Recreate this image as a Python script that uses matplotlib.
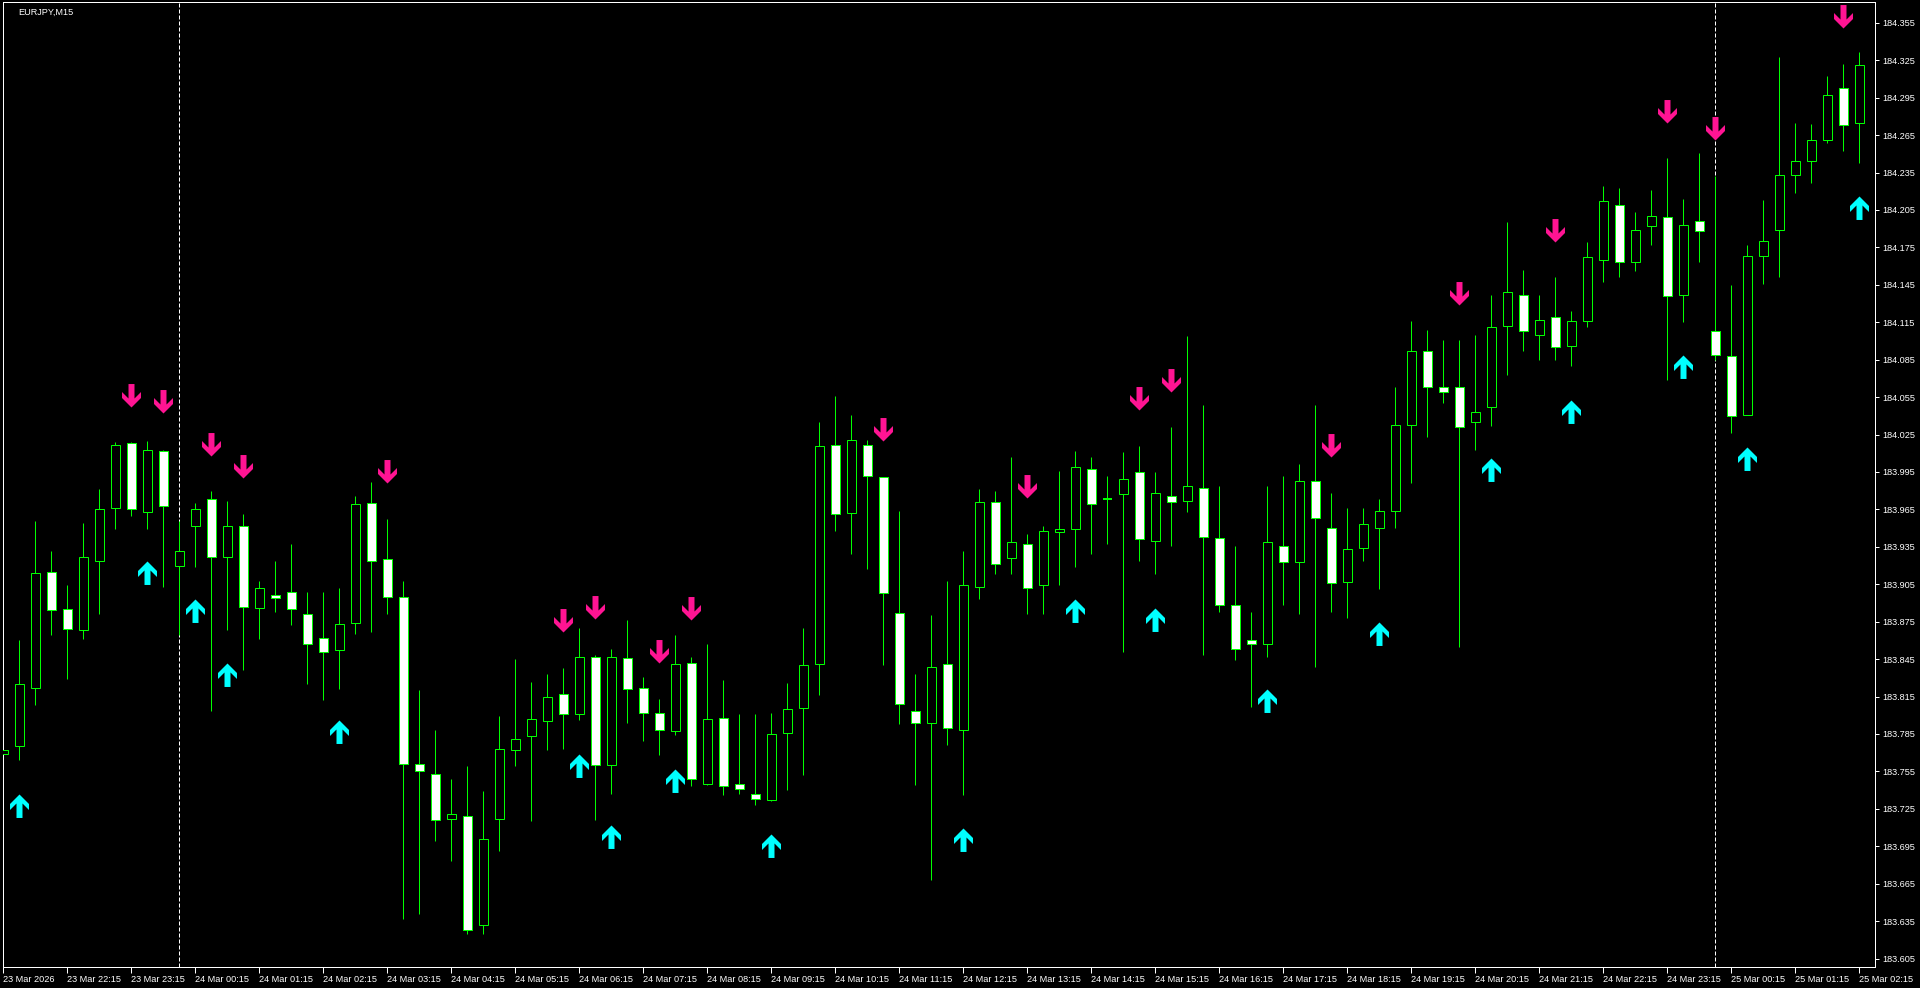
import numpy as np
import pandas as pd
import matplotlib
matplotlib.use("Agg")
import matplotlib.pyplot as plt
from matplotlib.path import Path

symbol = "EURJPY,M15"
start_time = "2026-03-23 21:15"

opens = [183.769, 183.775, 183.822, 183.915, 183.885, 183.868, 183.924, 183.966, 184.018, 183.963,
         184.012, 183.920, 183.952, 183.973, 183.927, 183.952, 183.886, 183.896, 183.899, 183.881,
         183.862, 183.852, 183.874, 183.970, 183.925, 183.895, 183.761, 183.753, 183.717, 183.719,
         183.632, 183.717, 183.772, 183.783, 183.795, 183.817, 183.801, 183.847, 183.760, 183.846,
         183.822, 183.802, 183.787, 183.842, 183.745, 183.798, 183.745, 183.737, 183.732, 183.786,
         183.806, 183.841, 184.017, 183.962, 184.017, 183.991, 183.882, 183.803, 183.794, 183.841,
         183.788, 183.903, 183.971, 183.926, 183.937, 183.904, 183.947, 183.949, 183.997, 183.973,
         183.977, 183.995, 183.940, 183.976, 183.972, 183.982, 183.942, 183.888, 183.860, 183.857,
         183.936, 183.923, 183.988, 183.950, 183.907, 183.934, 183.950, 183.964, 184.033, 184.092,
         184.063, 184.063, 184.035, 184.047, 184.112, 184.137, 184.105, 184.119, 184.096, 184.116,
         184.165, 184.209, 184.163, 184.192, 184.199, 184.137, 184.196, 184.108, 184.088, 184.041,
         184.168, 184.189, 184.233, 184.244, 184.261, 184.303, 184.275]
highs = [183.787, 183.860, 183.956, 183.932, 183.904, 183.954, 183.981, 184.019, 184.019, 184.020,
         184.013, 183.956, 183.970, 183.980, 183.972, 183.961, 183.908, 183.924, 183.937, 183.899,
         183.899, 183.902, 183.976, 183.987, 183.957, 183.908, 183.820, 183.788, 183.749, 183.759,
         183.739, 183.799, 183.845, 183.827, 183.833, 183.838, 183.870, 183.848, 183.853, 183.876,
         183.831, 183.813, 183.864, 183.847, 183.857, 183.828, 183.801, 183.801, 183.802, 183.826,
         183.870, 184.035, 184.056, 184.041, 184.021, 183.991, 183.964, 183.833, 183.880, 183.908,
         183.932, 183.981, 183.980, 184.007, 183.945, 183.952, 183.996, 184.012, 184.007, 183.992,
         184.011, 184.016, 183.995, 184.031, 184.104, 184.049, 183.984, 183.936, 183.883, 183.984,
         183.992, 184.001, 184.049, 183.978, 183.966, 183.966, 183.973, 184.063, 184.116, 184.109,
         184.101, 184.101, 184.105, 184.137, 184.195, 184.157, 184.137, 184.151, 184.124, 184.179,
         184.224, 184.223, 184.203, 184.221, 184.247, 184.214, 184.251, 184.232, 184.145, 184.177,
         184.213, 184.328, 184.275, 184.274, 184.312, 184.322, 184.332]
lows = [183.728, 183.764, 183.808, 183.864, 183.829, 183.861, 183.881, 183.949, 183.960, 183.949,
        183.903, 183.864, 183.919, 183.803, 183.868, 183.836, 183.861, 183.883, 183.872, 183.825,
        183.812, 183.821, 183.865, 183.867, 183.881, 183.637, 183.641, 183.699, 183.683, 183.625,
        183.625, 183.691, 183.759, 183.715, 183.772, 183.773, 183.796, 183.716, 183.737, 183.794,
        183.779, 183.768, 183.784, 183.743, 183.744, 183.736, 183.737, 183.728, 183.731, 183.740,
        183.752, 183.816, 183.948, 183.929, 183.917, 183.840, 183.793, 183.744, 183.668, 183.776,
        183.736, 183.893, 183.913, 183.913, 183.881, 183.881, 183.904, 183.919, 183.929, 183.937,
        183.851, 183.924, 183.913, 183.936, 183.963, 183.848, 183.883, 183.844, 183.807, 183.847,
        183.888, 183.881, 183.839, 183.883, 183.878, 183.924, 183.901, 183.950, 183.986, 184.023,
        184.050, 183.855, 184.013, 184.032, 184.073, 184.092, 184.085, 184.085, 184.080, 184.111,
        184.147, 184.151, 184.156, 184.177, 184.069, 184.115, 184.163, 184.085, 184.026, 184.041,
        184.146, 184.151, 184.219, 184.227, 184.259, 184.252, 184.243]
closes = [183.772, 183.825, 183.914, 183.884, 183.869, 183.927, 183.965, 184.017, 183.965, 184.013,
          183.968, 183.932, 183.965, 183.927, 183.952, 183.887, 183.902, 183.894, 183.885, 183.857,
          183.851, 183.873, 183.969, 183.924, 183.895, 183.761, 183.755, 183.716, 183.721, 183.628,
          183.701, 183.773, 183.781, 183.797, 183.815, 183.801, 183.847, 183.760, 183.847, 183.821,
          183.802, 183.788, 183.841, 183.749, 183.797, 183.743, 183.741, 183.733, 183.785, 183.805,
          183.840, 184.016, 183.961, 184.021, 183.992, 183.898, 183.809, 183.794, 183.839, 183.790,
          183.904, 183.971, 183.921, 183.939, 183.902, 183.948, 183.949, 183.999, 183.969, 183.973,
          183.989, 183.941, 183.978, 183.971, 183.984, 183.943, 183.888, 183.853, 183.857, 183.939,
          183.923, 183.988, 183.958, 183.906, 183.933, 183.953, 183.964, 184.033, 184.092, 184.063,
          184.059, 184.031, 184.043, 184.111, 184.139, 184.108, 184.117, 184.095, 184.116, 184.167,
          184.212, 184.163, 184.189, 184.200, 184.136, 184.193, 184.188, 184.089, 184.040, 184.168,
          184.180, 184.233, 184.244, 184.261, 184.297, 184.273, 184.321]

# indicator arrows: bar index and price at the arrow tip
buy_bars = [1, 9, 12, 14, 21, 36, 38, 42, 48, 60, 67, 72, 79, 86, 93, 98, 105, 109, 116]
buy_prices = [183.737, 183.924, 183.893, 183.842, 183.796, 183.769, 183.712, 183.757, 183.705, 183.710,
              183.893, 183.886, 183.821, 183.875, 184.006, 184.053, 184.089, 184.015, 184.216]
sell_bars = [8, 10, 13, 15, 24, 35, 37, 41, 43, 55, 64, 71, 73, 83, 91, 97, 104, 107, 115]
sell_prices = [184.047, 184.042, 184.008, 183.990, 183.986, 183.867, 183.877, 183.842, 183.876, 184.020,
               183.974, 184.045, 184.059, 184.007, 184.129, 184.179, 184.275, 184.261, 184.351]

price_labels = ["183.605", "183.635", "183.665", "183.695", "183.725", "183.755", "183.785", "183.815",
                "183.845", "183.875", "183.905", "183.935", "183.965", "183.995", "184.025", "184.055",
                "184.085", "184.115", "184.145", "184.175", "184.205", "184.235", "184.265", "184.295",
                "184.325", "184.355"]

LIME = "#00ff00"
FONT = "Liberation Sans"
PX = 0.72  # one pixel in points at dpi 100


def arrow_path(up=True):
    s = -1 if up else 1
    pts = [(0, 0), (9.5, 9.5 * s), (9.5, 15.5 * s), (3, 9 * s), (3, 23.5 * s),
           (-3, 23.5 * s), (-3, 9 * s), (-9.5, 15.5 * s), (-9.5, 9.5 * s), (0, 0)]
    codes = [Path.MOVETO] + [Path.LINETO] * (len(pts) - 2) + [Path.CLOSEPOLY]
    return Path(pts, codes)


def plot_chart():
    times = pd.date_range(start_time, periods=len(opens), freq="15min")
    x = np.arange(len(opens))
    o, h, l, c = (np.array(v) for v in (opens, highs, lows, closes))

    fig = plt.figure(figsize=(19.2, 9.88), dpi=100, facecolor="black")
    ax = fig.add_axes([2.5 / 1920, 1 - 967 / 988, 1872 / 1920, 964.5 / 988])
    ax.set_facecolor("black")

    # candles
    ax.vlines(x, l, h, color=LIME, lw=PX, zorder=2)
    up = c > o
    dn = c < o
    flat = c == o
    ax.bar(x[up], (c - o)[up], bottom=o[up], width=0.58, color="black",
           edgecolor=LIME, lw=PX, zorder=3)
    ax.bar(x[dn], (o - c)[dn], bottom=c[dn], width=0.58, color="white",
           edgecolor=LIME, lw=PX, zorder=3)
    ax.hlines(o[flat], x[flat] - 0.3, x[flat] + 0.3, color=LIME, lw=2 * PX, zorder=3)

    # day separators
    for i in np.where((times.hour == 0) & (times.minute == 0))[0]:
        ax.axvline(i, color="white", lw=PX, ls=(0, (4, 2)), zorder=1)

    # signal arrows
    ax.plot(buy_bars, buy_prices, ls="none", marker=arrow_path(True), ms=33.8,
            color="#00ffff", mew=0, zorder=4)
    ax.plot(sell_bars, sell_prices, ls="none", marker=arrow_path(False), ms=33.8,
            color="#ff1493", mew=0, zorder=4)

    ax.set_xlim(-0.05, (1874.5 - 3.3) / 16)
    ax.set_ylim(183.5982, 184.3713)

    # price axis on the right
    ax.yaxis.tick_right()
    ax.set_yticks([float(p) for p in price_labels])
    ax.set_yticklabels(price_labels)
    ax.tick_params(axis="y", colors="white", length=3, width=PX, pad=3,
                   labelsize=6.6)

    # time axis
    ticks = x[::4]
    labels = [times[0].strftime("%d %b %Y")] + [times[i].strftime("%d %b %H:%M") for i in ticks[1:]]
    ax.set_xticks(ticks)
    ax.set_xticklabels(labels)
    ax.tick_params(axis="x", colors="white", length=4, width=PX, pad=2,
                   labelsize=6.6)
    for lab in ax.get_xticklabels():
        lab.set_horizontalalignment("left")
    for lab in ax.get_xticklabels() + ax.get_yticklabels():
        lab.set_fontfamily(FONT)

    for sp in ax.spines.values():
        sp.set_color("white")
        sp.set_linewidth(PX)

    ax.text(16 / 1872, 1 - 5 / 964.5, symbol, transform=ax.transAxes, color="white",
            fontsize=6.6, family=FONT, ha="left", va="top")

    fig.savefig("out.png", dpi=100, facecolor="black")


if __name__ == "__main__":
    plot_chart()
